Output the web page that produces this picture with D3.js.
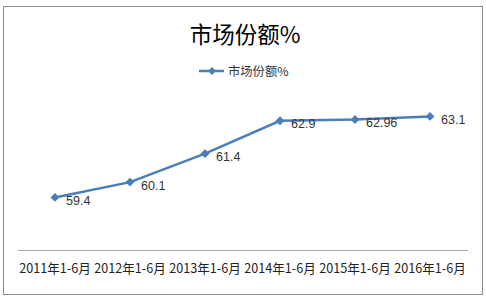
<!DOCTYPE html>
<html><head><meta charset="utf-8">
<script src="https://cdn.jsdelivr.net/npm/d3@7"></script>
<style>
body{margin:0;background:#fff;}
svg{display:block;font-family:"Noto Sans CJK SC","Noto Sans",sans-serif;}
</style></head>
<body>
<svg id="c" width="486" height="301"></svg>
<script>
const categories = ["2011年1-6月","2012年1-6月","2013年1-6月","2014年1-6月","2015年1-6月","2016年1-6月"];
const values = [59.4, 60.1, 61.4, 62.9, 62.96, 63.1];
const labels = ["59.4","60.1","61.4","62.9","62.96","63.1"];
const seriesName = "市场份额%";
const title = "市场份额%";

const svg = d3.select("#c");
const blue = "#4a7ebb";

svg.append("rect").attr("x",3.5).attr("y",6.5).attr("width",479).attr("height",288)
  .attr("fill","#fff").attr("stroke","#8c8c8c").attr("stroke-width",1);

svg.append("text").attr("x",245).attr("y",43).attr("text-anchor","middle")
  .attr("font-size",22.5).attr("fill","#000").text(title);

// legend
const lg = svg.append("g");
lg.append("line").attr("x1",199).attr("x2",224).attr("y1",71).attr("y2",71)
  .attr("stroke",blue).attr("stroke-width",2.5);
lg.append("path").attr("d",d3.symbol(d3.symbolDiamond2,40)()).attr("transform","translate(212,71)").attr("fill",blue);
lg.append("text").attr("x",228).attr("y",75.5).attr("font-size",12.3).attr("fill","#333").text(seriesName);

const x = d3.scaleBand().domain(categories).range([17.5,467.5]);
const y = d3.scaleLinear().domain([57,64]).range([250,96.7]);

const axis = d3.axisBottom(x).tickSize(0).tickPadding(14);
const ag = svg.append("g").attr("transform","translate(0,250)").call(axis);
ag.select(".domain").attr("stroke","#a6a6a6");
ag.selectAll("text").attr("font-size",12.6).attr("fill","#222")
  .attr("font-family","'Noto Sans CJK SC',sans-serif");

const cx = d => x(d) + x.bandwidth()/2;
const line = d3.line().x((d,i)=>cx(categories[i])).y(d=>y(d));
svg.append("path").datum(values).attr("d",line).attr("fill","none")
  .attr("stroke",blue).attr("stroke-width",2.5);

svg.selectAll(".m").data(values).enter().append("path")
  .attr("d",d3.symbol(d3.symbolDiamond2,50)())
  .attr("transform",(d,i)=>`translate(${cx(categories[i])},${y(d)})`)
  .attr("fill",blue);

svg.selectAll(".lbl").data(values).enter().append("text")
  .attr("x",(d,i)=>cx(categories[i])+11).attr("y",d=>y(d)+7.5)
  .attr("font-size",12.5).attr("fill","#333")
  .attr("font-family","'Liberation Sans',sans-serif")
  .text((d,i)=>labels[i]);
</script>
</body></html>
